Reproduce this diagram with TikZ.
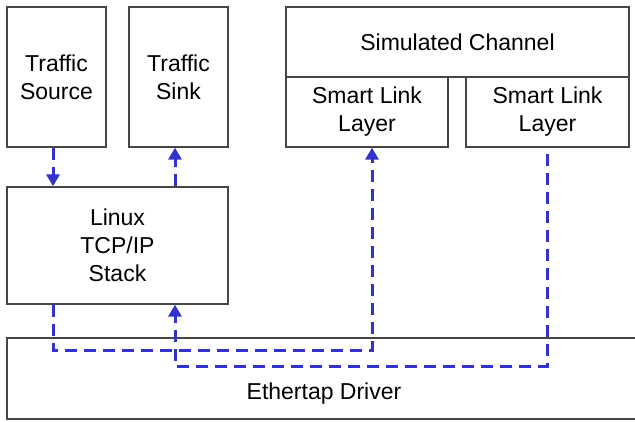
\documentclass[tikz,border=0pt]{standalone}
\usepackage{fontspec}
\setmainfont{Liberation Sans}
\usetikzlibrary{arrows.meta}
\definecolor{flowblue}{RGB}{51,51,204}
\definecolor{boxgray}{RGB}{70,70,70}
\tikzset{
  box/.style={draw=boxgray, line width=1.3pt, inner sep=0pt, align=center,
    font=\fontsize{23}{28}\selectfont},
  flow/.style={draw=flowblue, line width=3pt, dash pattern=on 12pt off 7pt},
  tip/.style={-{Triangle[length=12pt,width=13pt]}}
}
\begin{document}
\begin{tikzpicture}[x=1pt,y=-1pt]
\useasboundingbox (0,0) rectangle (635,422);
% upper blocks
\node[box, minimum width=99pt, minimum height=140pt] (src) at (56.5,77) {Traffic\\Source};
\node[box, minimum width=99pt, minimum height=140pt] (snk) at (178.5,77) {Traffic\\Sink};
\node[box, minimum width=343pt, minimum height=70pt] (chan) at (457.5,42) {Simulated Channel};
\node[box, minimum width=162pt, minimum height=70pt] (sll1) at (367,112) {Smart Link\\Layer};
\node[box, minimum width=163pt, minimum height=70pt] (sll2) at (547.5,112) {Smart Link\\Layer};
\node[box, minimum width=221pt, minimum height=117pt] (lin) at (117.5,245.5) {Linux\\TCP/IP\\Stack};
% driver block runs off the right edge
\draw[boxgray, line width=1.3pt] (650,338) -- (7,338) -- (7,419) -- (650,419);
\node[font=\fontsize{23}{28}\selectfont] (eth) at (324,394) {Ethertap Driver};
% x positions of the vertical connector runs
\coordinate (xa) at (53,0);
\coordinate (xb) at (175,0);
\coordinate (xc) at (372,0);
\coordinate (xd) at (547,0);
\coordinate (ya) at (0,350);
\coordinate (yb) at (0,366);
% packet flows
\draw[flow, tip] (src.south -| xa) -- (lin.north -| xa);
\draw[flow, tip] (lin.north -| xb) -- (snk.south -| xb);
\draw[flow, tip] (lin.south -| xa) -- (xa |- ya) -- (xc |- ya) -- (sll1.south -| xc);
\draw[flow, tip] ([yshift=-6pt]sll2.south -| xd) -- (xd |- yb) -- (xb |- yb) -- (lin.south -| xb);
\end{tikzpicture}
\end{document}
